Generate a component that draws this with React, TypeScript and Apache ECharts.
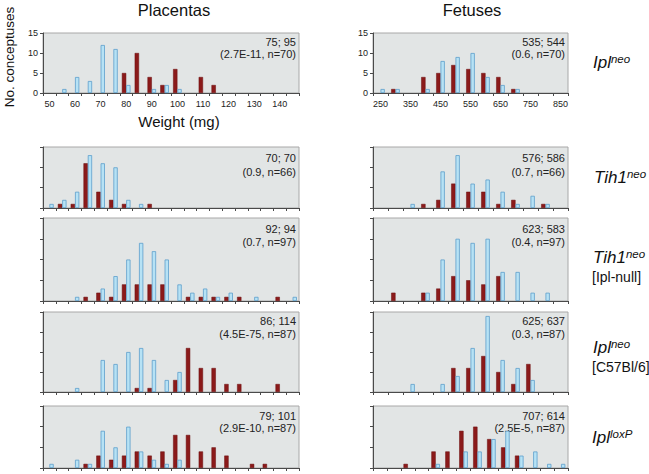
import React, { useEffect, useRef } from 'react';
import * as echarts from 'echarts';

// ---- categories (bin starts) ----
const placentaBins = ['50','55','60','65','70','75','80','85','90','95','100','105','110','115','120','125','130','135','140','145'];
const fetusBins = ['250','300','350','400','450','500','550','600','650','700','750','800','850'];
const fetusBinsWide = ['250','300','350','400','450','500','550','600','650','700','750','800','850','900'];

// ---- Ipl neo ----
const plIplneoRed  = [0,0,0,0,0,0,5,10,4,2,6,0,4,2,0,0,0,0,0,0];
const plIplneoBlue = [0,1,4,3,12,11,2,0,1,2,1,0,0,0,0,0,0,0,0,0];
const feIplneoRed  = [0,1,0,4,5,7,6,5,4,1,0,0,0];
const feIplneoBlue = [1,1,0,1,8,9,10,4,2,1,0,0,0];

// ---- Tih1 neo ----
const plTih1Red  = [0,1,1,11,4,2,1,0,1,0,0,0,0,0,0,0,0,0,0,0];
const plTih1Blue = [1,2,4,13,11,10,2,1,0,0,0,0,0,0,0,0,0,0,0,0];
const feTih1Red  = [0,0,0,1,2,6,4,4,1,2,0,1,0];
const feTih1Blue = [0,0,1,0,9,13,6,7,4,1,3,1,0];

// ---- Tih1 neo [Ipl-null] ----
const plTih1NullRed  = [0,0,0,1,2,1,4,4,4,4,0,1,1,1,1,1,0,0,1,0];
const plTih1NullBlue = [0,0,1,0,3,6,10,14,12,10,4,2,3,1,2,0,1,0,0,1];
const feTih1NullRed  = [0,2,0,2,3,6,5,4,6,0,0,0,0];
const feTih1NullBlue = [0,0,0,2,10,15,14,15,7,7,2,2,0];

// ---- Ipl neo [C57Bl/6] ----
const plB6Red  = [0,0,0,0,0,0,0,1,1,0,3,11,6,6,2,2,0,0,2,0];
const plB6Blue = [0,0,1,0,8,7,10,11,8,3,5,0,0,0,0,0,0,0,0,0];
const feB6Red  = [0,0,0,0,0,6,6,9,5,2,7,0,0];
const feB6Blue = [0,0,2,0,2,4,11,19,8,6,3,0,0];

// ---- Ipl loxP ----
const plLoxRed  = [0,0,0,1,3,2,3,4,3,4,8,8,4,5,3,0,1,1,0,0];
const plLoxBlue = [1,0,2,1,9,5,10,4,2,1,2,0,0,0,0,0,0,0,0,0];
const feLoxRed  = [0,0,1,0,4,4,9,10,7,5,3,0,0,0];
const feLoxBlue = [0,0,0,0,1,0,4,4,7,9,3,4,1,1];

// ---- annotations ----
const meanTexts = ['75; 95','535; 544','70; 70','576; 586','92; 94','623; 583','86; 114','625; 637','79; 101','707; 614'];
const statTexts = ['(2.7E-11, n=70)','(0.6, n=70)','(0.9, n=66)','(0.7, n=66)','(0.7, n=97)','(0.4, n=97)','(4.5E-75, n=87)','(0.3, n=87)','(2.9E-10, n=87)','(2.5E-5, n=87)'];
const yMaxes = [15, 15, 20, 20, 15];
const yTickInterval = 5;

const FONT = '"Liberation Sans", Arial, Helvetica, sans-serif';

export default function App() {
  const ref = useRef<HTMLDivElement>(null);
  useEffect(() => {
    document.body.style.margin = '0';
    if (!ref.current) return;
    const chart = echarts.init(ref.current, null, { renderer: 'svg' });

    const rows = [
      { top: 33, height: 60, t1: 8.5, t2: 20.5 },
      { top: 147, height: 61, t1: 11, t2: 24.5 },
      { top: 218, height: 83, t1: 11, t2: 24 },
      { top: 312, height: 80, t1: 9, t2: 22 },
      { top: 406, height: 62, t1: 9.5, t2: 22 },
    ];
    const cols = [{ left: 43, width: 256 }, { left: 373, width: 195 }];

    const panels = [
      { row: 0, col: 0, cats: placentaBins, red: plIplneoRed, blue: plIplneoBlue },
      { row: 0, col: 1, cats: fetusBins, red: feIplneoRed, blue: feIplneoBlue },
      { row: 1, col: 0, cats: placentaBins, red: plTih1Red, blue: plTih1Blue },
      { row: 1, col: 1, cats: fetusBins, red: feTih1Red, blue: feTih1Blue },
      { row: 2, col: 0, cats: placentaBins, red: plTih1NullRed, blue: plTih1NullBlue },
      { row: 2, col: 1, cats: fetusBins, red: feTih1NullRed, blue: feTih1NullBlue },
      { row: 3, col: 0, cats: placentaBins, red: plB6Red, blue: plB6Blue },
      { row: 3, col: 1, cats: fetusBins, red: feB6Red, blue: feB6Blue },
      { row: 4, col: 0, cats: placentaBins, red: plLoxRed, blue: plLoxBlue },
      { row: 4, col: 1, cats: fetusBinsWide, red: feLoxRed, blue: feLoxBlue },
    ];

    const grid: any[] = [];
    const xAxis: any[] = [];
    const yAxis: any[] = [];
    const series: any[] = [];
    const graphic: any[] = [];
    const axisColor = '#4a4a4a';
    const toData = (arr: number[]) => arr.map((v) => (v === 0 ? '-' : v));

    panels.forEach((p, i) => {
      const r = rows[p.row];
      const c = cols[p.col];
      grid.push({
        left: c.left, top: r.top, width: c.width, height: r.height,
        show: true, backgroundColor: '#e2e5e5', borderColor: '#a8a8a8', borderWidth: 1,
        containLabel: false,
      });
      const first = p.row === 0;
      xAxis.push({
        type: 'category', gridIndex: i, data: p.cats,
        axisLine: { show: true, lineStyle: { color: axisColor, width: 1 } },
        axisTick: { show: true, interval: 0, length: 3, lineStyle: { color: axisColor } },
        axisLabel: first
          ? { show: true, interval: 1, fontSize: 9, color: '#222', margin: 6, fontFamily: FONT }
          : { show: false },
        splitLine: { show: false },
      });
      yAxis.push({
        type: 'value', gridIndex: i, min: 0, max: yMaxes[p.row], interval: yTickInterval,
        axisLine: { show: true, lineStyle: { color: axisColor, width: 1 } },
        axisTick: { show: true, length: 3, lineStyle: { color: axisColor } },
        axisLabel: first
          ? { show: true, fontSize: 9, color: '#222', margin: 5, fontFamily: FONT }
          : { show: false },
        splitLine: { show: false },
      });
      series.push({
        type: 'bar', xAxisIndex: i, yAxisIndex: i, data: toData(p.red),
        barWidth: 4.3, barGap: '0%',
        itemStyle: { color: '#8b1a1a', borderColor: '#6a0d0d', borderWidth: 0.5 },
      });
      series.push({
        type: 'bar', xAxisIndex: i, yAxisIndex: i, data: toData(p.blue),
        barWidth: 4.3, barGap: '0%',
        itemStyle: { color: '#b6e2f5', borderColor: '#5d9ecb', borderWidth: 0.8 },
      });
      const rx = c.left + c.width - 3;
      graphic.push({
        type: 'text', x: rx, y: r.top + r.t1,
        style: { text: meanTexts[i], align: 'right', verticalAlign: 'middle', fontSize: 11, fontFamily: FONT, fill: '#222' },
      });
      graphic.push({
        type: 'text', x: rx, y: r.top + r.t2,
        style: { text: statTexts[i], align: 'right', verticalAlign: 'middle', fontSize: 11, fontFamily: FONT, fill: '#222' },
      });
    });

    // titles & axis names
    graphic.push({ type: 'text', x: 174, y: 10, style: { text: 'Placentas', align: 'center', verticalAlign: 'middle', fontSize: 16.5, fontFamily: FONT, fill: '#111' } });
    graphic.push({ type: 'text', x: 472, y: 10, style: { text: 'Fetuses', align: 'center', verticalAlign: 'middle', fontSize: 16.5, fontFamily: FONT, fill: '#111' } });
    graphic.push({ type: 'text', x: 179, y: 121, style: { text: 'Weight (mg)', align: 'center', verticalAlign: 'middle', fontSize: 15, fontFamily: FONT, fill: '#111' } });
    graphic.push({ type: 'text', x: 9, y: 57, rotation: Math.PI / 2, style: { text: 'No. conceptuses', align: 'center', verticalAlign: 'middle', fontSize: 13.5, fontFamily: FONT, fill: '#111' } });

    // genotype labels
    const rich = {
      m: { fontSize: 17, fontStyle: 'italic', fontFamily: FONT, fill: '#111', lineHeight: 19 },
      s: { fontSize: 11.5, fontStyle: 'italic', fontFamily: FONT, fill: '#111', verticalAlign: 'top', lineHeight: 11 },
    };
    const geno = [
      { x: 593, y: 62, text: '{m|Ipl}{s|neo}' },
      { x: 594, y: 177, text: '{m|Tih1}{s|neo}' },
      { x: 593, y: 257, text: '{m|Tih1}{s|neo}' },
      { x: 593, y: 347, text: '{m|Ipl}{s|neo}' },
      { x: 592, y: 437, text: '{m|Ipl}{s|loxP}' },
    ];
    geno.forEach((g) => {
      graphic.push({ type: 'text', x: g.x, y: g.y, style: { text: g.text, rich, align: 'left', verticalAlign: 'middle' } });
    });
    graphic.push({ type: 'text', x: 592, y: 277, style: { text: '[Ipl-null]', align: 'left', verticalAlign: 'middle', fontSize: 14, fontFamily: FONT, fill: '#111' } });
    graphic.push({ type: 'text', x: 592, y: 367, style: { text: '[C57Bl/6]', align: 'left', verticalAlign: 'middle', fontSize: 14, fontFamily: FONT, fill: '#111' } });

    chart.setOption({
      animation: false,
      backgroundColor: '#ffffff',
      grid, xAxis, yAxis, series, graphic,
    });
    return () => chart.dispose();
  }, []);
  return <div ref={ref} style={{ width: 649, height: 474 }} />;
}
